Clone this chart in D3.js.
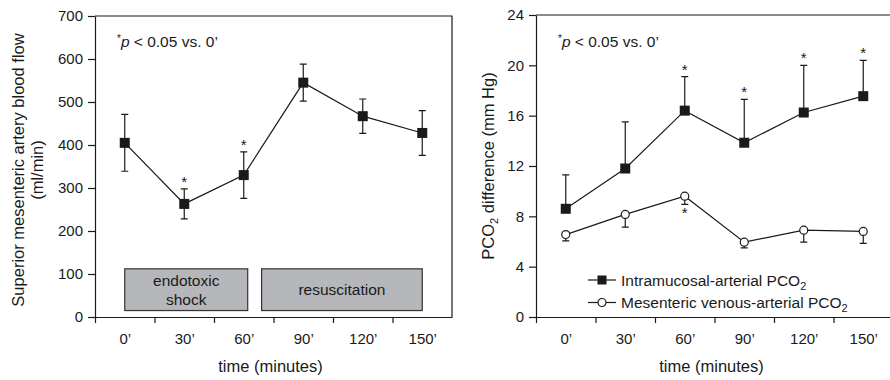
<!DOCTYPE html>
<html lang="en">
  <head>
    <title>Mesenteric flow and PCO2</title>
    <meta charset="utf-8" />
    <script src="https://d3js.org/d3.v7.min.js"></script>
    <style>
      body { margin: 0; background: #ffffff; }
      text { font-family: "Liberation Sans", Arial, Helvetica, sans-serif; fill: #1a1a1a; }
    </style>
  </head>
  <body>
    <svg width="890" height="380" xmlns="http://www.w3.org/2000/svg" id="target"></svg>
    <script>
        // data
        const timeLabels = ["0’", "30’", "60’", "90’", "120’", "150’"];
        const minutes = [0, 30, 60, 90, 120, 150];

        const flow = [405, 263, 330, 545, 467, 428];
        const flowErr = [66, 35, 54, 43, 40, 52];
        const flowSig = [false, true, true, false, false, false];

        const intra = [8.6, 11.8, 16.4, 13.85, 16.25, 17.55];
        const intraErr = [2.7, 3.7, 2.7, 3.45, 3.75, 2.85];
        const intraSig = [false, false, true, true, true, true];

        const mesen = [6.55, 8.15, 9.6, 5.95, 6.9, 6.8];
        const mesenErr = [0.5, 1.0, 0.65, 0.45, 0.95, 0.95];
        const mesenSig = [false, false, true, false, false, false];

        const phaseNames = [["endotoxic", "shock"], ["resuscitation"]];
        const phaseStart = [0, 69];
        const phaseEnd = [62, 150];
        const phaseLow = 15, phaseHigh = 112;

        const flowTicks = [0, 100, 200, 300, 400, 500, 600, 700];
        const pco2Ticks = [0, 4, 8, 12, 16, 20, 24];

        const ink = "#1a1a1a";
        const svg = d3.select("#target");

        function drawPanel(opt){
          const g = svg.append("g");
          const x = d3.scaleLinear().domain([-15, 165]).range([opt.left, opt.right]);
          const y = d3.scaleLinear().domain(opt.domain).range([opt.bottom, opt.top]);

          // frame (top / right)
          g.append("path")
            .attr("d", "M" + opt.left + "," + opt.top + " L" + opt.right + "," + opt.top + " L" + opt.right + "," + opt.bottom)
            .attr("fill", "none")
            .attr("stroke", ink)
            .attr("stroke-width", 1.2);

          // y axis
          const ya = g.append("g")
            .attr("transform", "translate(" + opt.left + ",0)")
            .call(d3.axisLeft(y).tickValues(opt.ticks).tickSize(7).tickSizeOuter(0).tickPadding(5));
          // x axis: tick marks between categories, labels at centers
          const xa = g.append("g")
            .attr("transform", "translate(0," + opt.bottom + ")")
            .call(d3.axisBottom(x).tickValues([-15, 15, 45, 75, 105, 135]).tickFormat("").tickSize(6).tickSizeOuter(0));
          const xl = g.append("g")
            .attr("transform", "translate(0," + opt.bottom + ")")
            .call(d3.axisBottom(x).tickValues(minutes).tickFormat((d, i) => timeLabels[i]).tickSize(0).tickPadding(16.5));
          xl.select(".domain").remove();
          [ya, xa].forEach(a => {
            a.select(".domain").attr("stroke", ink).attr("stroke-width", 1.2);
            a.selectAll(".tick line").attr("stroke", ink).attr("stroke-width", 1.2);
          });
          [ya, xl].forEach(a => {
            a.selectAll(".tick text")
              .attr("fill", ink)
              .style("font-size", "15px")
              .style("font-family", "'Liberation Sans', Arial, sans-serif");
          });

          // x axis title
          g.append("text")
            .attr("x", (opt.left + opt.right) / 2 - 3)
            .attr("y", 372)
            .attr("text-anchor", "middle")
            .style("font-size", "16.5px")
            .text("time (minutes)");

          // p-value note
          const note = g.append("text")
            .attr("x", opt.left + 22)
            .attr("y", 47)
            .style("font-size", "15.5px");
          note.append("tspan").attr("dy", -5).style("font-size", "10px").text("*");
          note.append("tspan").attr("dy", 5).style("font-style", "italic").text("p");
          note.append("tspan").text(" < 0.05 vs. 0’");

          return {g: g, x: x, y: y};
        }

        function drawSeries(p, values, errs, sigs, dir, marker){
          const pts = values.map((v, i) => ({m: minutes[i], v: v, e: errs[i], s: sigs[i]}));
          const cap = 3.5;

          // error bars
          p.g.selectAll(null)
            .data(pts)
            .enter()
            .append("path")
            .attr("d", d => {
              const cx = p.x(d.m);
              let s = "";
              if (dir !== "down"){
                const yt = p.y(d.v + d.e);
                s += "M" + cx + "," + p.y(d.v) + " L" + cx + "," + yt + " M" + (cx - cap) + "," + yt + " L" + (cx + cap) + "," + yt;
              }
              if (dir !== "up"){
                const yb = p.y(d.v - d.e);
                s += " M" + cx + "," + p.y(d.v) + " L" + cx + "," + yb + " M" + (cx - cap) + "," + yb + " L" + (cx + cap) + "," + yb;
              }
              return s;
            })
            .attr("fill", "none")
            .attr("stroke", ink)
            .attr("stroke-width", 1.2);

          // line
          p.g.append("path")
            .datum(pts)
            .attr("d", d3.line().x(d => p.x(d.m)).y(d => p.y(d.v)))
            .attr("fill", "none")
            .attr("stroke", ink)
            .attr("stroke-width", 1.2);

          // markers
          if (marker === "square"){
            p.g.selectAll(null)
              .data(pts)
              .enter()
              .append("rect")
              .attr("x", d => p.x(d.m) - 5)
              .attr("y", d => p.y(d.v) - 5)
              .attr("width", 10)
              .attr("height", 10)
              .attr("fill", ink);
          } else {
            p.g.selectAll(null)
              .data(pts)
              .enter()
              .append("circle")
              .attr("cx", d => p.x(d.m))
              .attr("cy", d => p.y(d.v))
              .attr("r", 4)
              .attr("fill", "#ffffff")
              .attr("stroke", ink)
              .attr("stroke-width", 1.2);
          }

          // significance stars
          p.g.selectAll(null)
            .data(pts.filter(d => d.s))
            .enter()
            .append("text")
            .attr("x", d => p.x(d.m))
            .attr("y", d => dir === "down" ? p.y(d.v - d.e) + 14 : p.y(d.v + d.e) - 2)
            .attr("text-anchor", "middle")
            .style("font-size", "15px")
            .text("*");
        }

        // left panel: blood flow
        const left = drawPanel({left: 95, right: 452, top: 16, bottom: 317, domain: [0, 700], ticks: flowTicks});

        // phase boxes
        left.g.selectAll("rect.phase")
          .data(phaseNames)
          .enter()
          .append("rect")
          .attr("class", "phase")
          .attr("x", (d, i) => left.x(phaseStart[i]))
          .attr("y", left.y(phaseHigh))
          .attr("width", (d, i) => left.x(phaseEnd[i]) - left.x(phaseStart[i]))
          .attr("height", left.y(phaseLow) - left.y(phaseHigh))
          .attr("fill", "#b6b7ba")
          .attr("stroke", "#333333")
          .attr("stroke-width", 1.2);
        phaseNames.forEach((lines, i) => {
          const cx = (left.x(phaseStart[i]) + left.x(phaseEnd[i])) / 2;
          const cy = (left.y(phaseHigh) + left.y(phaseLow)) / 2;
          lines.forEach((t, j) => {
            left.g.append("text")
              .attr("x", cx)
              .attr("y", cy + 5.5 + (j - (lines.length - 1) / 2) * 19)
              .attr("text-anchor", "middle")
              .style("font-size", "15.5px")
              .text(t);
          });
        });

        drawSeries(left, flow, flowErr, flowSig, "both", "square");

        left.g.append("text")
          .attr("transform", "translate(24,170) rotate(-90)")
          .attr("text-anchor", "middle")
          .style("font-size", "16.5px")
          .text("Superior mesenteric artery blood flow");
        left.g.append("text")
          .attr("transform", "translate(43,170) rotate(-90)")
          .attr("text-anchor", "middle")
          .style("font-size", "16.5px")
          .text("(ml/min)");

        // right panel: PCO2 difference
        const right = drawPanel({left: 536, right: 893, top: 15, bottom: 317, domain: [0, 24], ticks: pco2Ticks});
        drawSeries(right, mesen, mesenErr, mesenSig, "down", "circle");
        drawSeries(right, intra, intraErr, intraSig, "up", "square");

        const ylab = right.g.append("text")
          .attr("transform", "translate(494,166) rotate(-90)")
          .attr("text-anchor", "middle")
          .style("font-size", "16.5px");
        ylab.append("tspan").text("PCO");
        ylab.append("tspan").attr("dy", 4).style("font-size", "11px").text("2");
        ylab.append("tspan").attr("dy", -4).text(" difference (mm Hg)");

        // legend
        const legendNames = ["Intramucosal-arterial PCO", "Mesenteric venous-arterial PCO"];
        const legendMarks = ["square", "circle"];
        const lg = right.g.selectAll("g.legend")
          .data(legendNames)
          .enter()
          .append("g")
          .attr("class", "legend")
          .attr("transform", (d, i) => "translate(588," + (280 + i * 22.5) + ")");
        lg.append("line")
          .attr("x1", 0).attr("x2", 28)
          .attr("stroke", ink).attr("stroke-width", 1.2);
        lg.filter((d, i) => legendMarks[i] === "square")
          .append("rect")
          .attr("x", 9.5).attr("y", -4.5).attr("width", 9).attr("height", 9)
          .attr("fill", ink);
        lg.filter((d, i) => legendMarks[i] === "circle")
          .append("circle")
          .attr("cx", 14).attr("r", 4)
          .attr("fill", "#ffffff").attr("stroke", ink).attr("stroke-width", 1.2);
        const lt = lg.append("text")
          .attr("x", 33)
          .attr("y", 5.5)
          .style("font-size", "15.5px");
        lt.append("tspan").text(d => d);
        lt.append("tspan").attr("dy", 4).style("font-size", "11px").text("2");
    </script>
</body>
</html>
